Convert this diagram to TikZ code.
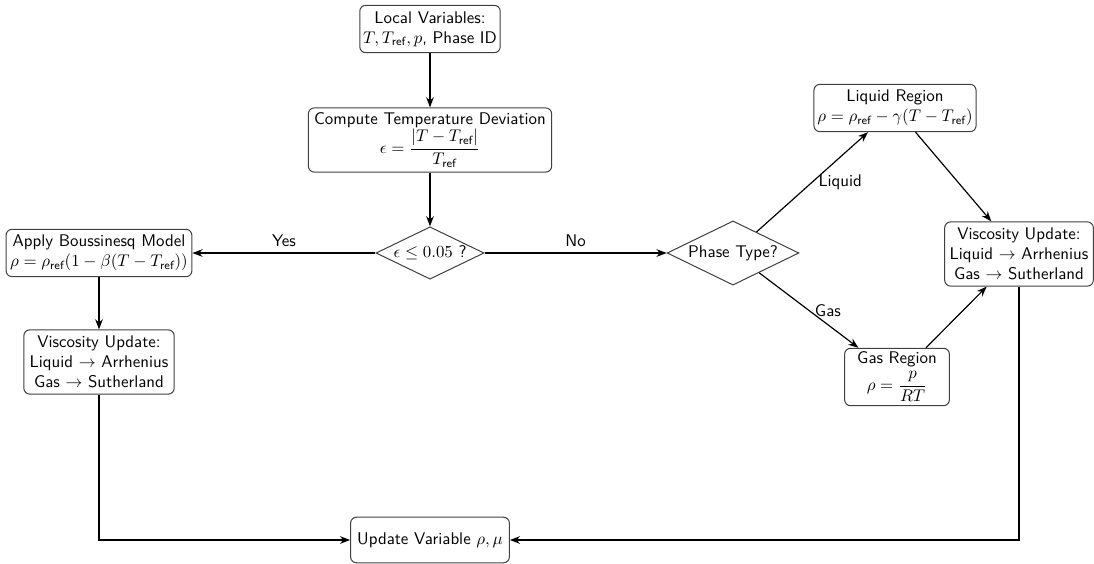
\documentclass[tikz,border=0pt]{standalone}
\usepackage{amsmath}
\usetikzlibrary{arrows.meta,shapes.geometric}
\renewcommand{\familydefault}{\sfdefault}
\newcommand{\rf}{\textsf{ref}}
\begin{document}
\begin{tikzpicture}[x=0.592pt,y=-0.592pt,
  box/.style={draw=black!75, line width=0.6pt, rounded corners=3.5pt, fill=white, align=center, inner sep=2pt},
  dia/.style={diamond, draw=black!75, line width=0.6pt, aspect=2, inner sep=0pt, align=center},
  arr/.style={-{Stealth[length=6pt,width=4.5pt]}, line width=0.7pt},
  lbl/.style={font=\sffamily}]
\useasboundingbox (0,0) rectangle (1094,563);
\node[box, minimum width=83pt, minimum height=28pt] (local) at (430,29) {Local Variables:\\ $T, T_{\rf}, p$, Phase ID};
\node[box, minimum width=144pt, minimum height=38pt] (compute) at (430,140) {Compute Temperature Deviation\\ $\epsilon = \dfrac{|T - T_{\rf}|}{T_{\rf}}$};
\node[dia, minimum width=64pt, minimum height=31pt] (eps) at (430,253) {$\epsilon \leq 0.05$ ?};
\node[box, minimum width=110pt, minimum height=28pt] (bous) at (99,253) {Apply Boussinesq Model\\ $\rho = \rho_{\rf}(1 - \beta(T - T_{\rf}))$};
\node[box, minimum width=89pt, minimum height=38pt] (viscL) at (99,362) {Viscosity Update:\\ Liquid $\rightarrow$ Arrhenius\\ Gas $\rightarrow$ Sutherland};
\node[dia, minimum width=78pt, minimum height=38pt] (phase) at (733,253) {Phase Type?};
\node[box, minimum width=90pt, minimum height=28pt] (liq) at (895,108) {Liquid Region\\ $\rho = \rho_{\rf} - \gamma(T - T_{\rf})$};
\node[box, minimum width=62pt, minimum height=34pt, inner ysep=1pt] (gas) at (897,377) {Gas Region\\[1.5pt] $\rho = \dfrac{p}{RT}$};
\node[box, minimum width=88pt, minimum height=38pt] (viscR) at (1019,254) {Viscosity Update:\\ Liquid $\rightarrow$ Arrhenius\\ Gas $\rightarrow$ Sutherland};
\node[box, minimum width=94pt, minimum height=27pt] (upd) at (430,540) {Update Variable $\rho, \mu$};
\draw[arr] (local) -- (compute);
\draw[arr] (compute) -- (eps);
\draw[arr] (eps) -- node[lbl, above] {Yes} (bous);
\draw[arr] (eps) -- node[lbl, above] {No} (phase);
\draw[arr] (bous) -- (viscL);
\draw[arr] (phase) -- node[lbl, right] {Liquid} (liq);
\draw[arr] (phase) -- node[lbl, right] {Gas} (gas);
\draw[arr] (liq) -- (viscR);
\draw[arr] (gas) -- (viscR);
\draw[arr] (viscL) |- (upd);
\draw[arr] (viscR) |- (upd);
\end{tikzpicture}
\end{document}
